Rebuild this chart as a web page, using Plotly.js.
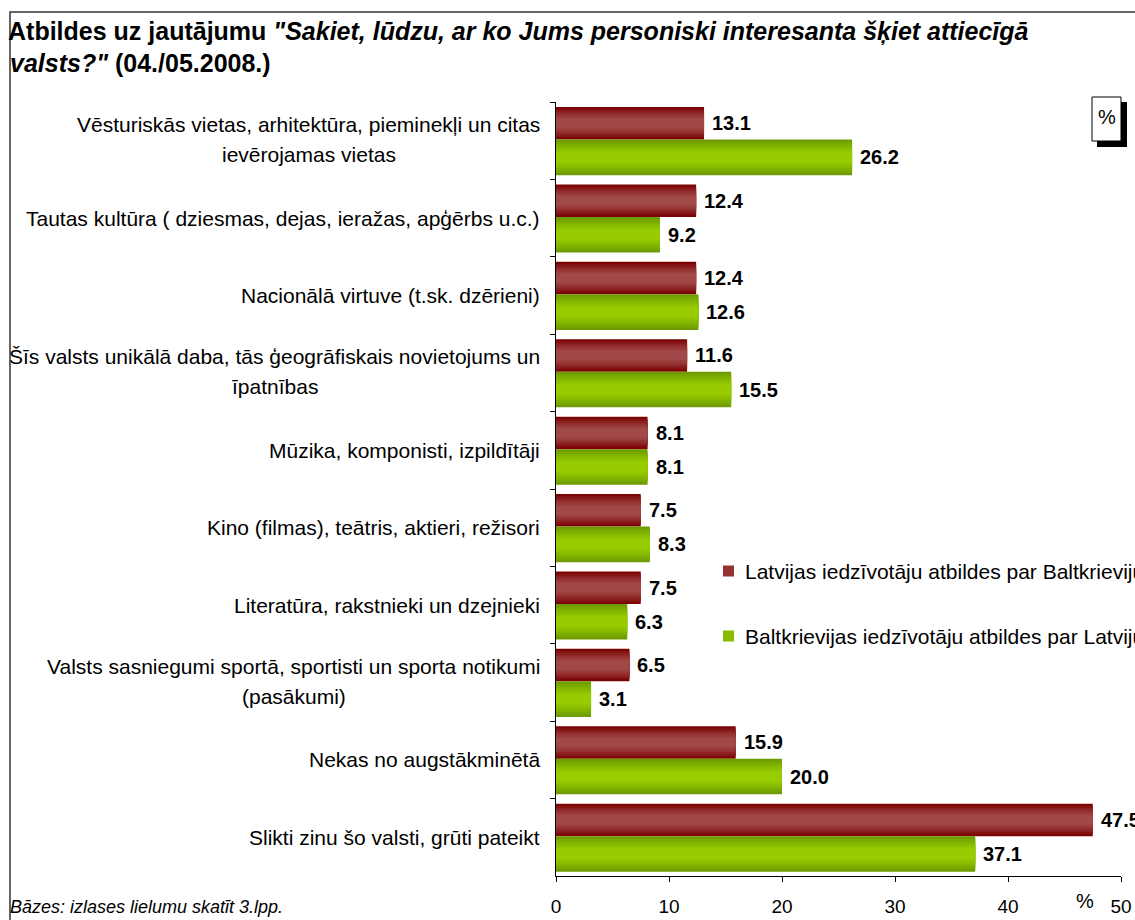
<!DOCTYPE html>
<html>
<head>
<meta charset="utf-8">
<script src="https://cdn.plot.ly/plotly-3.0.1.min.js"></script>
<style>
  html, body { margin: 0; padding: 0; background: #fff; }
  #chart { width: 1135px; height: 920px; }
</style>
</head>
<body>
<div id="chart"></div>
<script>
// ---------------- DATA ----------------
const categories = [
  "Vēsturiskās vietas, arhitektūra, pieminekļi un citas\nievērojamas vietas",
  "Tautas kultūra ( dziesmas, dejas, ieražas, apģērbs u.c.)",
  "Nacionālā virtuve (t.sk. dzērieni)",
  "Šīs valsts unikālā daba, tās ģeogrāfiskais novietojums un\nīpatnības",
  "Mūzika, komponisti, izpildītāji",
  "Kino (filmas), teātris, aktieri, režisori",
  "Literatūra, rakstnieki un dzejnieki",
  "Valsts sasniegumi sportā, sportisti un sporta notikumi\n(pasākumi)",
  "Nekas no augstākminētā",
  "Slikti zinu šo valsti, grūti pateikt"
];
const latviaAboutBelarus = [13.1, 12.4, 12.4, 11.6, 8.1, 7.5, 7.5, 6.5, 15.9, 47.5];
const belarusAboutLatvia = [26.2, 9.2, 12.6, 15.5, 8.1, 8.3, 6.3, 3.1, 20.0, 37.1];
const seriesNames = [
  "Latvijas iedzīvotāju atbildes par Baltkrieviju",
  "Baltkrievijas iedzīvotāju atbildes par Latviju"
];
const xTickVals = [0, 10, 20, 30, 40, 50];
const titleLine1 = '<b>Atbildes uz jautājumu <i>"Sakiet, lūdzu, ar ko Jums personiski interesanta šķiet attiecīgā</i></b>';
const titleLine2 = '<b><i>valsts?"</i> (04./05.2008.)</b>';
const footnote = '<i>Bāzes: izlases lielumu skatīt 3.lpp.</i>';
const unitLabel = '%';

// ---------------- LAYOUT HELPERS ----------------
const W = 1135, H = 920;
const M = { l: 556, r: 14, t: 102, b: 44, autoexpand: false };
const PW = W - M.l - M.r, PH = H - M.t - M.b;
const px2x = px => (px - M.l) / PW;
const py2y = py => (H - M.b - py) / PH;
const FONT = '"Liberation Sans", Arial, sans-serif';
const LAB = 21;

const canvas = document.createElement('canvas');
const ctx = canvas.getContext('2d');
ctx.font = LAB + 'px "Liberation Sans"';
const textW = s => ctx.measureText(s).width;

// bar geometry (category units)
const seriesGeom = [
  { offset: -0.435, width: 0.42, colors: ['#7c0404', '#851414', '#8d2424', '#953232', '#9b3d3d', '#a14848'] },
  { offset: -0.015, width: 0.46, colors: ['#6f9c00', '#78a700', '#80b200', '#88bc00', '#90c400', '#98cc00'] }
];
const layerFrac = [1, 0.86, 0.72, 0.58, 0.44, 0.3];
const seriesValues = [latviaAboutBelarus, belarusAboutLatvia];

const traces = [];
seriesValues.forEach((vals, s) => {
  const g = seriesGeom[s];
  layerFrac.forEach((f, k) => {
    traces.push({
      type: 'bar',
      orientation: 'h',
      x: vals,
      y: categories,
      name: seriesNames[s],
      showlegend: false,
      width: g.width * f,
      offset: g.offset + g.width * (1 - f) / 2,
      marker: { color: g.colors[k], line: { width: 0 } },
      hoverinfo: 'skip'
    });
  });
});

const annotations = [];
const shapes = [];
// category labels
categories.forEach((lab, i) => {
  const lines = lab.split('\n');
  const f = { family: FONT, size: LAB, color: '#000' };
  if (lines.length === 1) {
    annotations.push({ xref: 'paper', yref: 'y', x: 0, y: i, xanchor: 'right', yanchor: 'middle',
      xshift: -14, text: lines[0], showarrow: false, font: f });
  } else {
    const w1 = textW(lines[0]);
    annotations.push({ xref: 'paper', yref: 'y', x: 0, y: i, xanchor: 'right', yanchor: 'middle',
      xshift: -14, yshift: 16, text: lines[0], showarrow: false, font: f });
    annotations.push({ xref: 'paper', yref: 'y', x: 0, y: i, xanchor: 'center', yanchor: 'middle',
      xshift: -14 - w1 / 2 - 1, yshift: -14, text: lines[1], showarrow: false, font: f });
  }
});
// value labels
seriesValues.forEach((vals, s) => {
  const g = seriesGeom[s];
  vals.forEach((v, i) => {
    annotations.push({ xref: 'x', yref: 'y', x: v, y: i + g.offset + g.width / 2,
      xanchor: 'left', yanchor: 'middle', xshift: 6, text: '<b>' + v.toFixed(1) + '</b>',
      showarrow: false, font: { family: FONT, size: 20, color: '#000' } });
  });
});
// legend (drawn manually so that it may run past the right edge like the original)
const legendY = [571, 636];
seriesNames.forEach((nm, s) => {
  const cy = legendY[s];
  shapes.push({ type: 'rect', xref: 'paper', yref: 'paper', x0: px2x(723), x1: px2x(734),
    y0: py2y(cy + 5.5), y1: py2y(cy - 5.5), line: { width: 0 }, fillcolor: seriesGeom[s].colors[3], layer: 'above' });
  annotations.push({ xref: 'paper', yref: 'paper', x: px2x(743), y: py2y(cy), xanchor: 'left', yanchor: 'middle',
    text: nm, showarrow: false, font: { family: FONT, size: LAB, color: '#000' } });
});
// title line 2
annotations.push({ xref: 'paper', yref: 'paper', x: px2x(8), y: py2y(63), xanchor: 'left', yanchor: 'middle',
  text: titleLine2, showarrow: false, font: { family: FONT, size: 25, color: '#000' } });
// footnote
annotations.push({ xref: 'paper', yref: 'paper', x: px2x(8), y: py2y(907), xanchor: 'left', yanchor: 'middle',
  text: footnote, showarrow: false, font: { family: FONT, size: 18, color: '#000' } });
// % near x axis
annotations.push({ xref: 'paper', yref: 'paper', x: px2x(1085), y: py2y(901), xanchor: 'center', yanchor: 'middle',
  text: unitLabel, showarrow: false, font: { family: FONT, size: 20, color: '#000' } });
// % box text
annotations.push({ xref: 'paper', yref: 'paper', x: px2x(1106.5), y: py2y(117), xanchor: 'center', yanchor: 'middle',
  text: unitLabel, showarrow: false, font: { family: FONT, size: 20, color: '#000' } });

shapes.push(
  // outer frame
  { type: 'rect', xref: 'paper', yref: 'paper', x0: px2x(10), y0: py2y(930), x1: px2x(1145), y1: py2y(12),
    line: { color: '#333', width: 1.5 }, fillcolor: 'rgba(0,0,0,0)', layer: 'below' },
  // % box shadow
  { type: 'rect', xref: 'paper', yref: 'paper', x0: px2x(1097), y0: py2y(147), x1: px2x(1127), y1: py2y(102),
    line: { width: 0 }, fillcolor: '#000', layer: 'above' },
  // % box
  { type: 'rect', xref: 'paper', yref: 'paper', x0: px2x(1092), y0: py2y(141), x1: px2x(1121), y1: py2y(97),
    line: { color: '#000', width: 1 }, fillcolor: '#fff', layer: 'above' }
);

const layout = {
  width: W, height: H,
  margin: M,
  paper_bgcolor: '#fff', plot_bgcolor: '#fff',
  font: { family: FONT, size: LAB, color: '#000' },
  title: { text: titleLine1, x: 8 / W, xref: 'container', xanchor: 'left', automargin: false,
    y: 1 - 31 / H, yref: 'container', yanchor: 'middle', font: { family: FONT, size: 25, color: '#000' } },
  barmode: 'overlay',
  showlegend: false,
  xaxis: { range: [0, 50], tickvals: xTickVals, ticks: 'outside', ticklen: 5, tickcolor: '#000',
    showline: true, linecolor: '#000', linewidth: 1, showgrid: false, zeroline: false, automargin: false,
    ticklabelstandoff: 8, tickfont: { family: FONT, size: 19, color: '#000' }, fixedrange: true },
  yaxis: { type: 'category', range: [9.5, -0.5], ticks: 'outside', tickson: 'boundaries', ticklen: 5,
    tickcolor: '#000', showline: true, linecolor: '#000', linewidth: 1, showgrid: false, automargin: false,
    showticklabels: false, zeroline: false, fixedrange: true },
  annotations: annotations,
  shapes: shapes
};

Plotly.newPlot('chart', traces, layout, { displayModeBar: false, staticPlot: true });
</script>
</body>
</html>
